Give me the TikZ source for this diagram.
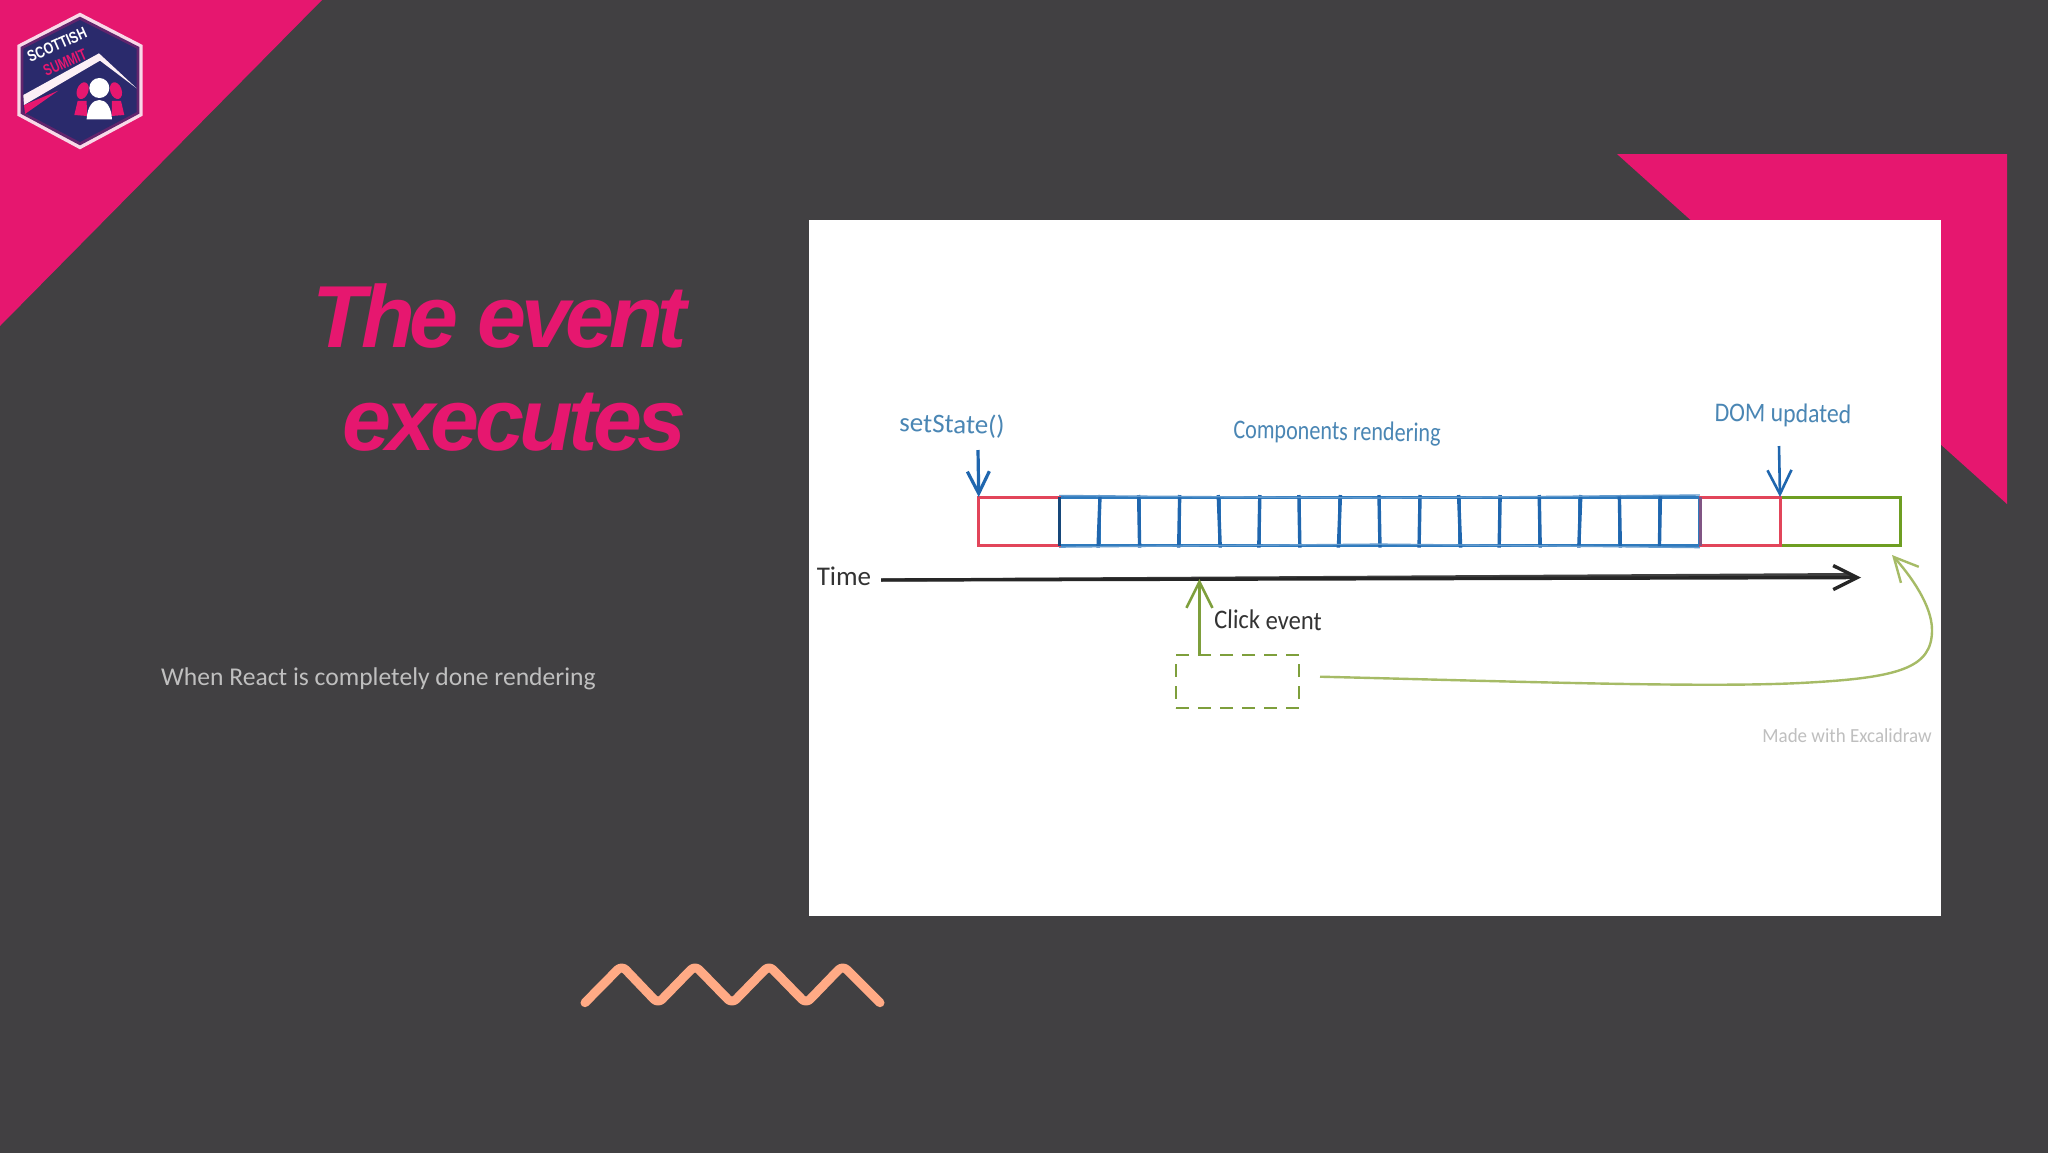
\documentclass[tikz,border=0pt]{standalone}
\usepackage{fontspec}
\setmainfont{Liberation Sans}
\newfontfamily\titlefont[LetterSpace=-6]{Liberation Sans}
\newfontfamily\titlefontb[LetterSpace=-5.2]{Liberation Sans}
\newfontfamily\bodyfont{Carlito}
\newfontfamily\handfont{Carlito}
\newfontfamily\logofont{Liberation Sans}
\usetikzlibrary{arrows.meta}
\definecolor{bgdark}{HTML}{414042}
\definecolor{pinkmain}{HTML}{E6176F}
\definecolor{peach}{HTML}{FFAA85}
\definecolor{bodygrey}{HTML}{BFBFBF}
\definecolor{cellblue}{HTML}{2F7ABD}
\definecolor{inkblue}{HTML}{1F66AE}
\definecolor{textblue}{HTML}{4A86B4}
\definecolor{inkred}{HTML}{E2455A}
\definecolor{inkgreen}{HTML}{6E9E22}
\definecolor{softgreen}{HTML}{A6BB66}
\definecolor{dashgreen}{HTML}{7E9F3C}
\definecolor{navy}{HTML}{2A2A6C}
\definecolor{palepink}{HTML}{F8D9E8}
\tikzset{
  cell/.style={draw=#1,line width=3pt,minimum height=48.6pt,inner sep=0pt,outer sep=0pt},
  hand/.style={inner sep=0pt,outer sep=0pt,font=\handfont\fontsize{#1}{#1}\selectfont},
  barb/.style={-{Straight Barb[length=#1,width=#1]}},
  logotext/.style={inner sep=0pt,rotate=24,font=\logofont\bfseries\fontsize{16}{16}\selectfont},
}
\begin{document}
\begin{tikzpicture}[x=1pt,y=-1pt]
\useasboundingbox (0,0) rectangle (2048,1152);
\fill[bgdark] (-5,-5) rectangle (2053,1157);
% corner accents
\fill[pinkmain] (0,0) -- (322,0) -- (0,326) -- cycle;
\fill[pinkmain] (1617,154) -- (2007,154) -- (2007,504) -- cycle;
% logo
\begin{scope}[x=0.3333pt,y=-0.3333pt]
\fill[palepink] (240,38) -- (428,135) -- (428,347) -- (240,448) -- (52,347) -- (52,135) -- cycle;
\fill[navy!70!pinkmain] (240,50) -- (418,141) -- (418,341) -- (240,436) -- (62,341) -- (62,141) -- cycle;
\fill[navy] (240,60) -- (410,146) -- (410,336) -- (240,426) -- (70,336) -- (70,146) -- cycle;
\fill[pinkmain] (72,315) -- (175,272) -- (75,342) -- cycle;
\end{scope}
\node[logotext,text=pinkmain] (logob) at (65,62.5) {\scalebox{.72}[1]{SUMMIT}};
\begin{scope}[x=0.3333pt,y=-0.3333pt]
\fill[palepink!40!white] (70,285) -- (297,160) -- (410,265) -- (300,182) -- (72,315) -- cycle;
\foreach \s in {1,-1}{
  \begin{scope}[shift={(298,0)},xscale=\s]
  \fill[pinkmain,rotate around={20:(50,272)}] (50,272) ellipse (17 and 26);
  \fill[pinkmain] (38,303) -- (65,303) -- (75,345) -- (37,348) -- cycle;
  \end{scope}
}
\fill[white] (298,264) circle (30);
\fill[white] (260,358) .. controls (262,320) and (278,300) .. (298,300) .. controls (318,300) and (334,320) .. (336,358) -- cycle;
\end{scope}
\node[logotext,text=white] (logoa) at (57,45) {\scalebox{.78}[1]{SCOTTISH}};
% title
\node[anchor=base east,inner sep=0pt,text=pinkmain] (titlea) at (687,347) {\titlefont\bfseries\itshape\fontsize{88}{88}\selectfont The event};
\node[anchor=base east,inner sep=0pt,text=pinkmain] (titleb) at (687,450) {\titlefontb\bfseries\itshape\fontsize{88}{88}\selectfont executes};
\node[anchor=base west,inner sep=0pt,text=bodygrey] (body) at (161,685) {\bodyfont\fontsize{25.6}{25.6}\selectfont When React is completely done rendering};
% screenshot
\fill[white] (808.5,219.5) rectangle (1941,916);
% cells
\foreach \i in {1,...,16}{
  \node[cell=cellblue,minimum width=40.06pt] (c\i) at ({1059+40.06*(\i-0.5)},521.3) {};
}
\foreach \i/\dx in {1/1,2/-0.5,3/0.5,4/-1,5/0.5,6/-0.5,7/1,8/-0.5,9/0.5,10/-1,11/0.5,12/-0.5,13/1,14/-0.5,15/0.5}{
  \draw[inkblue,line width=3.4pt] ([xshift=\dx pt,yshift=2pt]c\i.north east) -- ([xshift=-\dx pt,yshift=-2pt]c\i.south east);
}
\draw[cellblue!75,line width=1.4pt] ([yshift=1.5pt]c1.north west) -- ([yshift=-1pt]c8.north east) -- ([yshift=2pt]c16.north east);
\draw[cellblue!75,line width=1.4pt] ([yshift=-1.5pt]c1.south west) -- ([yshift=1.5pt]c8.south east) -- ([yshift=-2pt]c16.south east);
\node[cell=inkred,minimum width=80.3pt] (first) at (1018.9,521.3) {};
\node[cell=inkgreen,minimum width=120pt] (last) at (1840,521.3) {};
\node[cell=inkred,minimum width=80pt] (lastred) at (1740,521.3) {};
\draw[inkblue!70!black,line width=3pt] (first.north east) -- (first.south east);
\draw[inkblue!50!inkred,line width=3pt] (lastred.north west) -- (lastred.south west);
% labels
\node[hand=27,text=textblue,rotate=-2] (setstate) at (952,425) {setState()};
\node[hand=27,text=textblue,rotate=-1] (comps) at (1337,433) {\scalebox{.82}[1]{Components rendering}};
\node[hand=27,text=textblue,rotate=-1] (dom) at (1783,415) {\scalebox{.88}[1]{DOM updated}};
\node[hand=27,text=black!80] (timelab) at (844,576) {Time};
\node[hand=27,text=black!80,rotate=-1] (click) at (1268,620) {\scalebox{.91}[1]{Click event}};
\node[hand=20,text=black!25] (made) at (1847,736) {\scalebox{.95}[1]{Made with Excalidraw}};
% anchors for connectors
\coordinate (setA) at (978,450);
\coordinate (domA) at (1779,446);
\coordinate (timeL) at (881,580);
\coordinate (timeR) at (1861,577.5);
\coordinate (timeLb) at (881,580);
\coordinate (timeRb) at (1850,574.5);
\coordinate (clickTip) at (1199.4,579);
\coordinate (clickS) at (1199.4,655);
% dashed box
\node[draw=dashgreen,dashed,dash pattern=on 13pt off 9pt,line width=2.8pt,minimum width=123pt,minimum height=53pt,inner sep=0pt,outer sep=0pt] (evt) at (1237.5,681.5) {};
% connectors
\draw[inkblue,line width=3.2pt,barb=22pt] (setA) -- (first.north west);
\draw[inkblue,line width=2.6pt,barb=24pt] (domA) -- (lastred.north east);
\draw[black!75,line width=3pt] (timeLb) -- (timeRb);
\draw[black!85,line width=3.4pt,barb=24pt] (timeL) -- (timeR);
\draw[dashgreen,line width=2.6pt,barb=26pt] (clickS) -- (clickTip);
\coordinate (curveS) at (1320,676.7);
\coordinate (curveE) at (1892,555);
\draw[softgreen,line width=2.4pt,barb=24pt] (curveS) .. controls (1500,681) and (1700,688) .. (1800,683) .. controls (1900,678) and (1932,668) .. (1932,630) .. controls (1932,605) and (1910,575) .. (curveE);
% squiggle
\draw[peach,line width=9pt,line cap=round,line join=round,rounded corners=6pt]
  (585,1002.7) -- (621.7,965.5) -- (658,1003.5) -- (695,965.5) -- (732,1003.5) -- (769,965.5) -- (806,1003.5) -- (842.7,965.5) -- (880,1002.7);
\end{tikzpicture}
\end{document}
